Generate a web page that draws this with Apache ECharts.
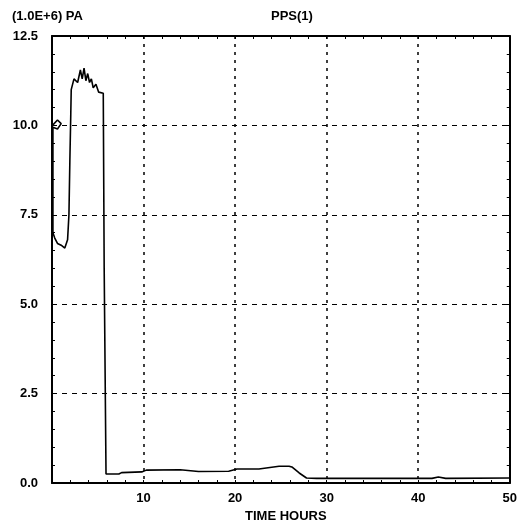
<!DOCTYPE html>
<html>
<head>
<meta charset="utf-8">
<script src="https://cdn.jsdelivr.net/npm/echarts@6/dist/echarts.min.js"></script>
<style>html,body{margin:0;padding:0;background:#fff}#c{width:520px;height:523px}</style>
</head>
<body>
<div id="c"></div>
<script>
var timeHours = [0.05,0.6,1.0,0.6,0.1,0.1,0.3,0.6,1.0,1.4,1.7,1.85,1.95,2.05,2.1,2.4,2.8,3.1,3.3,3.5,3.7,3.9,4.1,4.3,4.5,4.8,5.1,5.6,5.7,5.9,7.3,7.6,9.8,10.3,14.0,16.0,19.3,20.2,22.6,24.8,25.9,26.2,27.0,27.8,28.9,35,41.5,42.2,43,50];
var pressure = [10.0,10.15,10.05,9.9,9.95,7.0,6.85,6.7,6.65,6.57,6.8,7.5,9.0,10.3,11.0,11.3,11.2,11.55,11.3,11.6,11.25,11.45,11.2,11.3,11.05,11.15,10.93,10.9,6.0,0.25,0.25,0.29,0.31,0.36,0.37,0.32,0.33,0.39,0.39,0.47,0.47,0.45,0.28,0.14,0.13,0.13,0.13,0.17,0.13,0.14];
var yTicks = [0,2.5,5,7.5,10,12.5];
var xTicks = [0,10,20,30,40,50];

var chart = echarts.init(document.getElementById('c'));
var pts = timeHours.map(function(t,i){return [t,pressure[i]];});
var font = {fontFamily:'Liberation Sans, Arial', fontWeight:'bold', fontSize:13, color:'#000'};
function frameAxis(pos, isX){
  var a = {
    type:'value',position:pos,min:0,max:isX?50:12.5,interval:isX?10:2.5,
    axisLine:{show:true,onZero:false,lineStyle:{color:'#000',width:2}},
    axisTick:{show:true,inside:true,length:3,lineStyle:{color:'#000'}},
    minorTick:{show:true,splitNumber:5,length:3,lineStyle:{color:'#000'}},
    axisLabel:{show:false},splitLine:{show:false}
  };
  return a;
}
chart.setOption({
  animation:false,
  backgroundColor:'#fff',
  grid:{left:52,right:9,top:36,bottom:40,show:false},
  title:[
    {text:'(1.0E+6) PA',left:7,top:5,textStyle:font},
    {text:'PPS(1)',left:266,top:5,textStyle:font},
    {text:'TIME HOURS',left:240,top:505,textStyle:font}
  ],
  xAxis:[{
    type:'value',min:xTicks[0],max:xTicks[xTicks.length-1],interval:10,
    axisLine:{show:true,onZero:false,lineStyle:{color:'#000',width:2}},
    axisTick:{show:true,inside:true,length:3,lineStyle:{color:'#000'}},
    minorTick:{show:true,splitNumber:5,length:3,lineStyle:{color:'#000'}},
    axisLabel:Object.assign({margin:9,formatter:function(v){return v===0?'':String(v);}},font),
    splitLine:{show:true,lineStyle:{color:'#000',type:[3,5],width:1.5}}
  }, frameAxis('top',true)],
  yAxis:[{
    type:'value',min:yTicks[0],max:yTicks[yTicks.length-1],interval:2.5,
    axisLine:{show:true,onZero:false,lineStyle:{color:'#000',width:2}},
    axisTick:{show:true,inside:true,length:3,lineStyle:{color:'#000'}},
    minorTick:{show:true,splitNumber:5,length:3,lineStyle:{color:'#000'}},
    axisLabel:Object.assign({margin:14,formatter:function(v){return v.toFixed(1);}},font),
    splitLine:{show:true,lineStyle:{color:'#000',type:[5,5],width:1}}
  }, frameAxis('right',false)],
  series:[{
    type:'line',data:pts,showSymbol:false,symbol:'none',
    lineStyle:{color:'#000',width:1.6},z:5
  }]
});
</script>
</body>
</html>
